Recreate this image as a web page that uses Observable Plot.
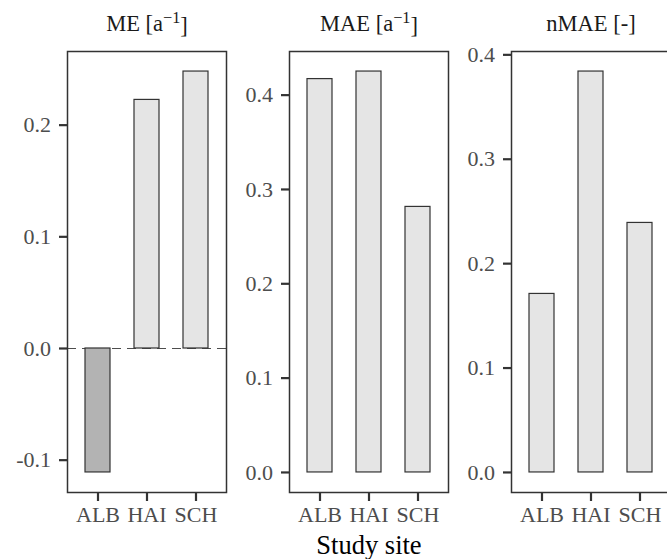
<!DOCTYPE html>
<html>
<head>
<meta charset="utf-8">
<script src="https://cdn.jsdelivr.net/npm/d3@7"></script>
<script src="https://cdn.jsdelivr.net/npm/@observablehq/plot@0.6"></script>
<style>
  html, body { margin: 0; padding: 0; background: #fff; }
  #chart { position: relative; width: 667px; height: 559px; overflow: hidden; background: #fff; }
  #chart svg { position: absolute; top: 0; }
</style>
</head>
<body>
<div id="chart"></div>
<script>
const sites = ["ALB", "HAI", "SCH"];
const meValues = [-0.111, 0.2226, 0.248];
const maeValues = [0.417, 0.425, 0.2815];
const nmaeValues = [0.171, 0.384, 0.239];
const meTicks = [-0.1, 0.0, 0.1, 0.2];
const maeTicks = [0.0, 0.1, 0.2, 0.3, 0.4];
const nmaeTicks = [0.0, 0.1, 0.2, 0.3, 0.4];
const panelNames = ["ME", "MAE", "nMAE"];
const panelUnits = ["a", "a", "-"];
const panelUnitPowers = ["\u22121", "\u22121", ""];
const xTitle = "Study site";

const chart = document.getElementById("chart");

function makePanel(i, values, ticks, zeroRule, showXTitle) {
  const data = sites.map((s, k) => ({site: s, value: values[k]}));
  const lo = Math.min(0, ...values), hi = Math.max(0, ...values);
  const pad = 0.05 * (hi - lo);
  const title = panelNames[i] + " [" + panelUnits[i] + panelUnitPowers[i] + "]";
  const marks = [];
  if (zeroRule) marks.push(Plot.ruleY([0], {stroke: "#4d4d4d", strokeWidth: 1.2, strokeDasharray: "9,6"}));
  marks.push(
    Plot.barY(data, {
      x: "site", y: "value",
      fill: d => d.value < 0 ? "#b3b3b3" : "#e5e5e5",
      stroke: "#333", strokeWidth: 1.2
    }),
    Plot.frame({stroke: "#333", strokeWidth: 1.5}),
    Plot.axisY({ticks, tickFormat: d => d.toFixed(1), tickSize: 8, tickPadding: 8.5,
      stroke: "#333", strokeWidth: 2.2, fill: "#4d4d4d", fontSize: 22, label: null}),
    Plot.axisX({tickSize: 9, tickPadding: 5, stroke: "#333", strokeWidth: 2.2,
      fill: "#4d4d4d", fontSize: 22, label: null}),
    Plot.text([title], {frameAnchor: "top", lineAnchor: "bottom", dy: -21,
      fill: "#1a1a1a", fontSize: 22.5, className: "strip-title"})
  );
  if (showXTitle) {
    marks.push(Plot.text([xTitle], {frameAnchor: "bottom", lineAnchor: "bottom", dy: 61,
      fill: "#000", fontSize: 26.5}));
  }
  const svg = Plot.plot({
    width: 230, height: 559,
    marginLeft: 67, marginRight: 4, marginTop: 51, marginBottom: 67,
    style: {fontFamily: "'Liberation Serif', serif", fontSize: "22px", background: "transparent", overflow: "visible"},
    x: {type: "band", domain: sites, paddingInner: 0.5, paddingOuter: 0.35},
    y: {domain: [lo - pad, hi + pad]},
    marks
  });
  svg.style.left = (222 * i) + "px";
  chart.appendChild(svg);
  // superscript for the unit exponent
  if (panelUnitPowers[i]) {
    const texts = Array.from(svg.querySelectorAll("text")).filter(t => t.textContent === title);
    texts.forEach(t => {
      let target = t;
      const tsp = t.querySelector("tspan");
      if (tsp && tsp.textContent === title) target = tsp;
      const sel = d3.select(target);
      sel.text(null);
      sel.append("tspan").text(panelNames[i] + " [" + panelUnits[i]);
      sel.append("tspan").attr("dy", "-0.45em").attr("font-size", "0.72em").text(panelUnitPowers[i]);
      sel.append("tspan").attr("dy", "0.45em").text("]");
    });
  }
}

makePanel(0, meValues, meTicks, true, false);
makePanel(1, maeValues, maeTicks, false, true);
makePanel(2, nmaeValues, nmaeTicks, false, false);
</script>
</body>
</html>
